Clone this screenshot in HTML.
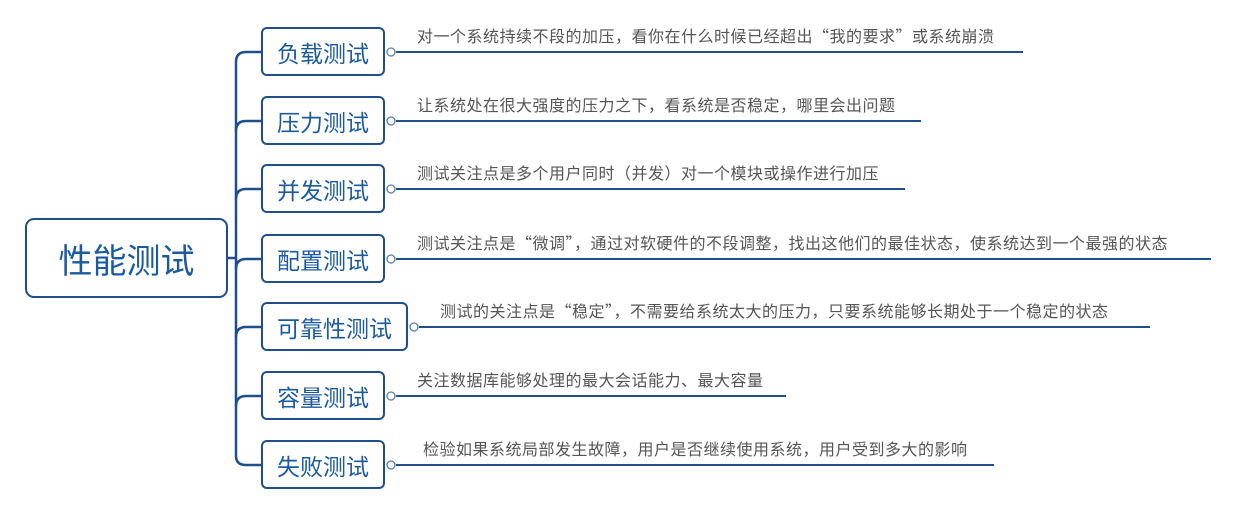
<!DOCTYPE html>
<html><head><meta charset="utf-8"><style>
body{margin:0;width:1240px;height:507px;background:#fff;position:relative;overflow:hidden;font-family:"Liberation Sans","Noto Sans CJK SC",sans-serif}
.b{position:absolute;box-sizing:border-box;border:2.5px solid #1f4e8c;border-radius:6px;background:#fff;color:#1b5a9e;display:flex;align-items:center;justify-content:center;font-size:23px}
.t{position:absolute;font-size:16px;letter-spacing:0.5px;color:#555;white-space:nowrap;line-height:18px;font-family:"Noto Sans CJK SC",sans-serif}
</style></head><body>
<svg width="1240" height="507" style="position:absolute;left:0;top:0">
<g fill="none" stroke="#1f4e8c" stroke-width="2.5">
<path d="M227 258 H236"/>
<path d="M236 62 Q236 52 246 52 H262"/>
<path d="M236 456 Q236 465 246 465 H262"/>
<path d="M236 62 V456"/>
<path d="M236 131 Q236 121 246 121 H262"/>
<path d="M236 199 Q236 189 246 189 H262"/>
<path d="M236 269 Q236 259 246 259 H262"/>
<path d="M236 337 Q236 327 246 327 H262"/>
<path d="M236 406 Q236 396 246 396 H262"/>
</g>
<g stroke="#1f4e8c" stroke-width="2">
<line x1="396" y1="52" x2="1023" y2="52"/>
<line x1="396" y1="121" x2="921" y2="121"/>
<line x1="396" y1="189" x2="905" y2="189"/>
<line x1="396" y1="259" x2="1211" y2="259"/>
<line x1="419" y1="327" x2="1150" y2="327"/>
<line x1="396" y1="396" x2="786" y2="396"/>
<line x1="396" y1="465" x2="994" y2="465"/>
</g>
<g fill="#fff" stroke="#5a7fa8" stroke-width="1.3">
<circle cx="391" cy="52" r="4"/><circle cx="391" cy="121" r="4"/><circle cx="391" cy="189" r="4"/>
<circle cx="391" cy="259" r="4"/><circle cx="414" cy="327" r="4"/><circle cx="391" cy="396" r="4"/><circle cx="391" cy="465" r="4"/>
</g>
</svg>
<div class="b" style="left:25px;top:218px;width:203px;height:80px;border-radius:9px;font-size:34px">性能测试</div>
<div class="b" style="left:261px;top:27px;width:124px;height:49px">负载测试</div>
<div class="b" style="left:261px;top:96px;width:124px;height:49px">压力测试</div>
<div class="b" style="left:261px;top:164px;width:124px;height:49px">并发测试</div>
<div class="b" style="left:261px;top:234px;width:124px;height:49px">配置测试</div>
<div class="b" style="left:261px;top:302px;width:147px;height:49px">可靠性测试</div>
<div class="b" style="left:261px;top:371px;width:124px;height:49px">容量测试</div>
<div class="b" style="left:261px;top:440px;width:124px;height:49px">失败测试</div>
<div class="t" style="left:417px;top:26px">对一个系统持续不段的加压，看你在什么时候已经超出“我的要求”或系统崩溃</div>
<div class="t" style="left:417px;top:95px">让系统处在很大强度的压力之下，看系统是否稳定，哪里会出问题</div>
<div class="t" style="left:417px;top:163px">测试关注点是多个用户同时（并发）对一个模块或操作进行加压</div>
<div class="t" style="left:417px;top:233px">测试关注点是“微调”，通过对软硬件的不段调整，找出这他们的最佳状态，使系统达到一个最强的状态</div>
<div class="t" style="left:440px;top:301px">测试的关注点是“稳定”，不需要给系统太大的压力，只要系统能够长期处于一个稳定的状态</div>
<div class="t" style="left:417px;top:370px">关注数据库能够处理的最大会话能力、最大容量</div>
<div class="t" style="left:423px;top:439px">检验如果系统局部发生故障，用户是否继续使用系统，用户受到多大的影响</div>
</body></html>
